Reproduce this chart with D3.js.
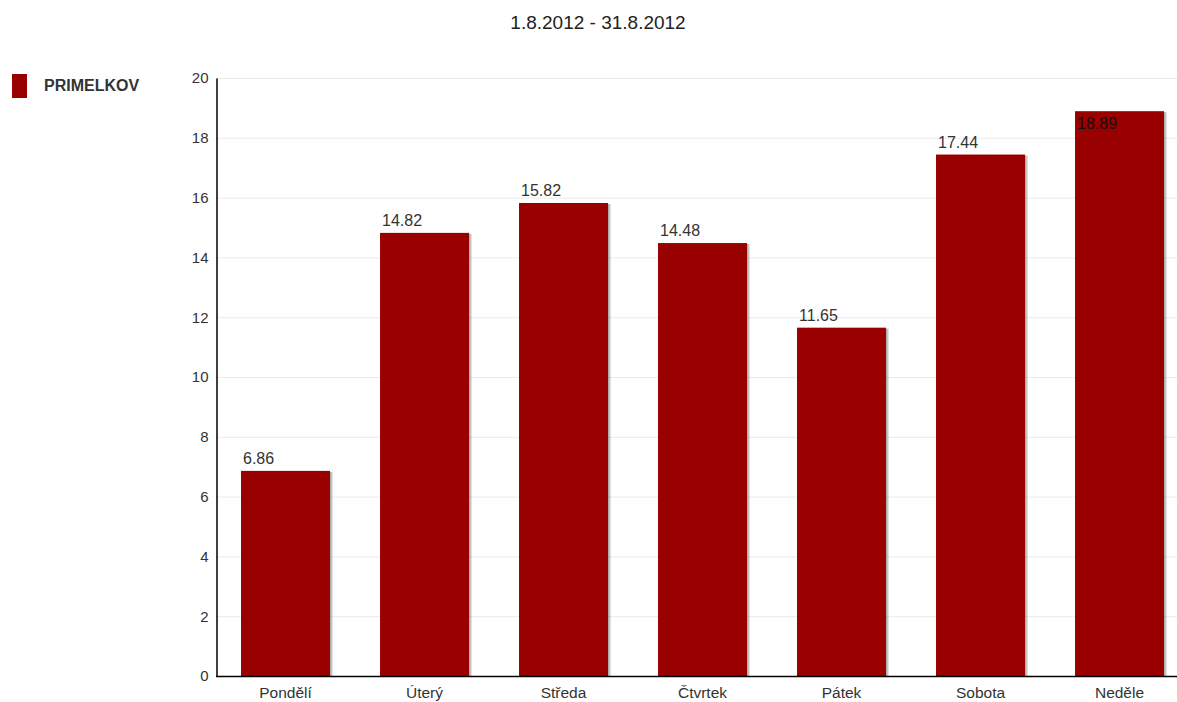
<!DOCTYPE html>
<html>
<head>
<meta charset="utf-8">
<script src="https://cdn.jsdelivr.net/npm/d3@7"></script>
<style>
  body { margin: 0; background: #fff; }
  svg { font-family: "Liberation Sans", Arial, sans-serif; }
</style>
</head>
<body>
<div id="chart"></div>
<script>
var svgWidth = 1177;
var svgHeight = 702;

// data
var days = ["Pondělí", "Úterý", "Středa", "Čtvrtek", "Pátek", "Sobota", "Neděle"];
var values = [6.86, 14.82, 15.82, 14.48, 11.65, 17.44, 18.89];
var yTicks = [0, 2, 4, 6, 8, 10, 12, 14, 16, 18, 20];
var seriesName = "PRIMELKOV";
var title = "1.8.2012 - 31.8.2012";

var margin = { top: 78, left: 216, bottom: 26, right: 0 };
var plotBottom = svgHeight - margin.bottom;
var barColor = "#990000";

var svg = d3.select("#chart")
  .append("svg")
  .attr("width", svgWidth)
  .attr("height", svgHeight);

var x = d3.scaleBand()
  .domain(days)
  .range([margin.left, margin.left + 973])
  .paddingInner(0.36)
  .paddingOuter(0.18);

var y = d3.scaleLinear()
  .domain([0, 20])
  .range([plotBottom, margin.top]);

// title
svg.append("text")
  .attr("x", 598)
  .attr("y", 29)
  .attr("text-anchor", "middle")
  .attr("font-size", "19px")
  .attr("fill", "#222")
  .text(title);

// grid lines
svg.append("g")
  .selectAll("line")
  .data(yTicks.slice(1))
  .enter()
  .append("line")
  .attr("x1", margin.left)
  .attr("x2", svgWidth)
  .attr("y1", d => y(d) + 0.5)
  .attr("y2", d => y(d) + 0.5)
  .attr("stroke", "#ebebeb")
  .attr("stroke-width", 1);

// bar shadows
var shadows = svg.append("g");
[3, 2, 1].forEach(function(off) {
  shadows.selectAll(null)
    .data(values)
    .enter()
    .append("rect")
    .attr("x", (d, i) => x(days[i]) + off)
    .attr("y", d => y(d) + 1)
    .attr("width", x.bandwidth())
    .attr("height", d => plotBottom - y(d) - 1)
    .attr("fill", "#000")
    .attr("opacity", 0.12);
});

// bars
svg.append("g")
  .selectAll("rect")
  .data(values)
  .enter()
  .append("rect")
  .attr("x", (d, i) => x(days[i]))
  .attr("y", d => y(d))
  .attr("width", x.bandwidth())
  .attr("height", d => plotBottom - y(d))
  .attr("fill", barColor);

// value labels (top one drawn inside the bar)
svg.append("g")
  .selectAll("text")
  .data(values)
  .enter()
  .append("text")
  .attr("x", (d, i) => x(days[i]) + 2)
  .attr("y", d => d > 18 ? y(d) + 18 : y(d) - 7)
  .attr("font-size", "16px")
  .attr("fill", d => d > 18 ? "#111" : "#333")
  .text(d => d.toFixed(2));

// y axis
var yAxis = svg.append("g")
  .attr("transform", `translate(${margin.left + 0.5},0)`)
  .call(d3.axisLeft(y).tickValues(yTicks).tickSize(0).tickPadding(8));
yAxis.select(".domain").attr("stroke", "#000").attr("stroke-width", 1.5);
yAxis.selectAll("text").attr("font-size", "15px").attr("fill", "#333")
  .attr("font-family", "Liberation Sans, Arial, sans-serif");

// x axis
var xAxis = svg.append("g")
  .attr("transform", `translate(0,${plotBottom + 0.5})`)
  .call(d3.axisBottom(x).tickSize(0).tickPadding(10));
xAxis.select(".domain").attr("d", `M${margin.left},0H${svgWidth}`)
  .attr("stroke", "#000").attr("stroke-width", 1.5);
xAxis.selectAll("text").attr("font-size", "15.5px").attr("fill", "#333")
  .attr("font-family", "Liberation Sans, Arial, sans-serif");

// legend
svg.append("rect")
  .attr("x", 12)
  .attr("y", 74)
  .attr("width", 15)
  .attr("height", 24)
  .attr("fill", barColor);

svg.append("text")
  .attr("x", 44)
  .attr("y", 91)
  .attr("font-size", "16px")
  .attr("font-weight", "bold")
  .attr("fill", "#333")
  .text(seriesName);
</script>
</body>
</html>
